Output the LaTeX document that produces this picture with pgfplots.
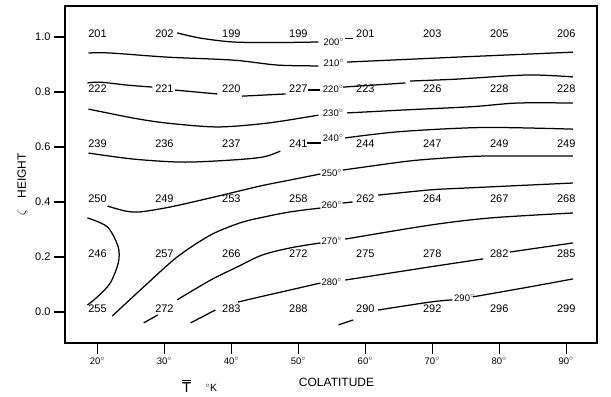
\documentclass[border=0pt]{standalone}
\usepackage{pgfplots}
\pgfplotsset{compat=1.18}
\usepackage{fontspec}
\setmainfont{Liberation Sans}
\begin{document}
\begin{tikzpicture}
\begin{axis}[
  scale only axis, width=532pt, height=337pt,
  xmin=15.15, xmax=94.6, ymin=-0.113, ymax=1.113,
  axis line style={line width=2.5pt},
  tick style={line width=1.4pt, black},
  major tick length=11pt, tick align=outside, tick pos=left,
  xtick={20,30,40,50,60,70,80,90},
  xticklabels={20$^{\circ}$,30$^{\circ}$,40$^{\circ}$,50$^{\circ}$,60$^{\circ}$,70$^{\circ}$,80$^{\circ}$,90$^{\circ}$},
  xticklabel style={font=\fontsize{9.5}{11}\selectfont},
  ytick={0,0.2,0.4,0.6,0.8,1.0},
  yticklabel style={font=\fontsize{11}{13}\selectfont, /pgf/number format/.cd, fixed, fixed zerofill, precision=1, assume math mode=true},
  clip=false,
  cl/.style={black, line width=1.25pt, smooth},
  nodes near coords style={anchor=center},
]
% ---- grid values ----
\addplot[draw=none, nodes near coords, point meta=explicit symbolic,
  every node near coord/.append style={font=\fontsize{11}{13}\selectfont, yshift=3pt, anchor=center}]
  table[meta=l] {
x y l
20 1.0 201
30 1.0 202
40 1.0 199
50 1.0 199
60 1.0 201
70 1.0 203
80 1.0 205
90 1.0 206
20 0.8 222
30 0.8 221
40 0.8 220
50 0.8 227
60 0.8 223
70 0.8 226
80 0.8 228
90 0.8 228
20 0.6 239
30 0.6 236
40 0.6 237
50 0.6 241
60 0.6 244
70 0.6 247
80 0.6 249
90 0.6 249
20 0.4 250
30 0.4 249
40 0.4 253
50 0.4 258
60 0.4 262
70 0.4 264
80 0.4 267
90 0.4 268
20 0.2 246
30 0.2 257
40 0.2 266
50 0.2 272
60 0.2 275
70 0.2 278
80 0.2 282
90 0.2 285
20 0.0 255
30 0.0 272
40 0.0 283
50 0.0 288
60 0.0 290
70 0.0 292
80 0.0 296
90 0.0 299
};
% ---- contour labels ----
\addplot[draw=none, nodes near coords={\pgfplotspointmeta$^{\circ}$}, point meta=explicit symbolic,
  every node near coord/.append style={font=\fontsize{9.5}{11}\selectfont, anchor=center, inner sep=0pt}]
  coordinates {
(55.3,0.982) [200]
(55.3,0.905) [210]
(55.2,0.811) [220]
(55.2,0.724) [230]
(55.2,0.633) [240]
(55.0,0.507) [250]
(55.0,0.389) [260]
(55.0,0.258) [270]
(55.0,0.109) [280]
(74.8,0.051) [290]
};
% ---- contour 200 ----
\addplot[cl] coordinates {(31.9,1.015) (35.4,0.996) (40.3,0.982) (46.5,0.980) (53.0,0.982)};
\addplot[cl] coordinates {(57.0,0.996) (58.2,0.996)};
% ---- contour 210 ----
\addplot[cl] coordinates {(18.66,0.942) (21.9,0.942) (30.4,0.927) (40.3,0.916) (46.9,0.898) (53.0,0.895)};
\addplot[cl] coordinates {(57.3,0.909) (65.5,0.918) (73.7,0.927) (91.0,0.945)};
% ---- contour 220 ----
\addplot[cl] coordinates {(18.5,0.833) (20.4,0.836) (24.5,0.825) (28.2,0.818)};
\addplot[cl] coordinates {(31.6,0.807) (37.9,0.793)};
\addplot[cl] coordinates {(41.6,0.785) (48.1,0.793)};
\addplot[cl] coordinates {(51.5,0.807) (53.3,0.807)};
\addplot[cl] coordinates {(56.7,0.818) (66.0,0.833)};
\addplot[cl] coordinates {(66.7,0.840) (73.7,0.847) (84.2,0.862) (91.0,0.855)};
% ---- contour 230 ----
\addplot[cl] coordinates {(18.66,0.738) (25.4,0.705) (30.4,0.687) (37.9,0.673) (45.4,0.687) (53.0,0.716)};
\addplot[cl] coordinates {(57.3,0.724) (66.0,0.735) (76.1,0.747) (82.7,0.760) (91.0,0.760)};
% ---- contour 240 ----
\addplot[cl] coordinates {(18.66,0.578) (25.4,0.556) (32.8,0.545) (40.3,0.553) (44.8,0.564) (47.3,0.585)};
\addplot[cl] coordinates {(51.3,0.615) (53.3,0.615)};
\addplot[cl] coordinates {(57.0,0.633) (65.2,0.656) (77.6,0.671) (91.0,0.665)};
% ---- contour 250 ----
\addplot[cl] coordinates {(21.5,0.385) (24.2,0.367) (26.4,0.364) (30.9,0.382) (36.9,0.415) (44.3,0.458) (48.8,0.480) (53.3,0.502)};
\addplot[cl] coordinates {(56.6,0.516) (65.2,0.545) (69.7,0.556) (77.6,0.567) (91.0,0.567)};
% ---- 246 closed contour ----
\addplot[cl] coordinates {(18.5,0.342) (21.5,0.309) (23.1,0.236) (23.1,0.178) (21.9,0.105) (20.0,0.055) (18.5,0.025)};
% ---- contour 260 ----
\addplot[cl] coordinates {(22.2,-0.015) (26.9,0.091) (31.9,0.200) (36.9,0.280) (41.3,0.324) (44.8,0.345) (48.8,0.364) (53.3,0.378)};
\addplot[cl] coordinates {(56.6,0.396) (58.1,0.400)};
\addplot[cl] coordinates {(61.9,0.425) (69.7,0.444) (75.2,0.451) (91.0,0.469)};
% ---- contour 270 ----
\addplot[cl] coordinates {(31.9,0.044) (36.9,0.116) (40.9,0.164) (44.6,0.207) (48.8,0.233) (53.3,0.251)};
\addplot[cl] coordinates {(57.0,0.265) (69.7,0.316) (78.7,0.342) (91.0,0.360)};
% ---- contour 280 ----
\addplot[cl] coordinates {(41.0,0.036) (44.3,0.055) (53.3,0.105)};
\addplot[cl] coordinates {(57.0,0.116) (69.7,0.164) (77.6,0.193)};
\addplot[cl] coordinates {(81.6,0.218) (91.0,0.251)};
% ---- contour 290 ----
\addplot[cl] coordinates {(56.0,-0.047) (58.2,-0.029)};
\addplot[cl] coordinates {(61.9,0.007) (69.7,0.036) (73.0,0.044)};
\addplot[cl] coordinates {(76.1,0.055) (83.6,0.087) (91.0,0.120)};
% ---- short dashes near bottom left ----
\addplot[cl] coordinates {(26.9,-0.040) (29.0,-0.011)};
\addplot[cl] coordinates {(33.9,-0.040) (37.6,0.007)};
% ---- axis titles ----
\node[rotate=90, font=\fontsize{12}{14}\selectfont] at (axis cs:8.7,0.495) {HEIGHT};
\node[rotate=90, font=\fontsize{13}{15}\selectfont] at (axis cs:8.8,0.36) {$\zeta$};
\node[font=\fontsize{12}{14}\selectfont] at (axis cs:55.7,-0.258) {COLATITUDE};
\node[font=\fontsize{14}{16}\selectfont] at (axis cs:33.3,-0.27) {$\overline{\overline{\mbox{T}}}$};
\node[font=\fontsize{10.5}{12}\selectfont] at (axis cs:37.0,-0.275) {$^{\circ}$K};
\end{axis}
\path (current axis.south west) ++(-65pt,-52pt) rectangle ++(611pt,395pt);
\end{tikzpicture}
\end{document}
